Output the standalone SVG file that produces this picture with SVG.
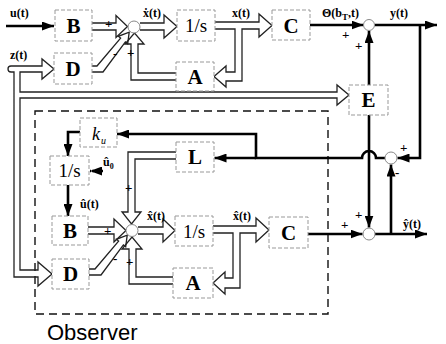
<svg xmlns="http://www.w3.org/2000/svg" width="446" height="344" viewBox="0 0 446 344">
<style>
.box{fill:#fff;stroke:#999;stroke-width:1;stroke-dasharray:4 2}
.pipe{fill:none;stroke:#222;stroke-width:1.3;stroke-linejoin:miter}
.thick{fill:none;stroke:#000;stroke-width:2.6}
.sum{fill:#fff;stroke:#888;stroke-width:1}
.big{font-family:"Liberation Serif",serif;font-weight:bold;font-size:21px;text-anchor:middle}
.int{font-family:"Liberation Serif",serif;font-size:19px;text-anchor:middle}
.lbl{font-family:"Liberation Serif",serif;font-weight:bold;font-size:12px}
.sg{font-family:"Liberation Serif",serif;font-weight:bold;font-size:13px;fill:#000}
.obs{fill:none;stroke:#111;stroke-width:1.4;stroke-dasharray:8 5}
</style>
<defs>
<marker id="ah" viewBox="0 0 12 9" refX="12" refY="4.5" markerWidth="12" markerHeight="9" markerUnits="userSpaceOnUse" orient="auto"><path d="M0 0 L12 4.5 L0 9 z" fill="#000"/></marker>
</defs>

<rect class="obs" x="35" y="111" width="293" height="203"/>
<text x="47" y="340" font-family="Liberation Sans, Arial, sans-serif" font-size="22">Observer</text>

<g id="connectors">
  <path class="pipe" d="M92 23 H116 V15.5 L127.5 26.5 L116 37.5 V30 H92"/>
  <path class="pipe" d="M140 23 H164 V15 L177 26.5 L164 38 V30 H140"/>
  <path class="pipe" d="M215 22 H259 V14 L272 25.5 L259 37 V29 H242 V81 H226 V87 L214 76.5 L226 66 V72 H235 V29 H215"/>
  <path class="pipe" d="M176 73 H138 V44 H144 L134.5 33 L125 44 H131 V80 H176"/>
  <path class="pipe" d="M92 66 H97 L120.6 38.1 L118.3 36.3 L129.2 32.2 L127.7 43.7 L125.4 41.9 L103 72 H92"/>
  <path class="pipe" d="M11 72 A3 3 0 0 1 11 66 H42 V59 L54 69 L42 79 V72 H20 V92 H337 V85 L349 95 L337 105 V98 H20 V270 H38 V262 L52 274 L38 286 V277 H14 V72 H11"/>
  <path class="pipe" d="M88 227 H114 V219 L126 230.5 L114 242 V234 H88"/>
  <path class="pipe" d="M138 227 H163 V219 L175 230.5 L163 242 V234 H138"/>
  <path class="pipe" d="M176 152 H128 V212 H122 L131.5 224 L141 212 H135 V159 H176"/>
  <path class="pipe" d="M173 277 H136 V249 H142 L132 237 L122 249 H129 V284 H173"/>
  <path class="pipe" d="M89 269 H95 L118.6 241.1 L116.3 239.3 L127.2 235.2 L125.7 246.7 L123.4 244.9 L101 275 H89"/>
  <path class="pipe" d="M213 226 H256 V218 L269 230 L256 242 V233 H240 V288 H225 V294 L213 283 L225 272 V278 H233 V233 H213"/>
  <path class="thick" d="M6 26 H54" marker-end="url(#ah)"/>
  <path class="thick" d="M310 25 H363.5" marker-end="url(#ah)"/>
  <path class="thick" d="M375 25 H437" marker-end="url(#ah)"/>
  <path class="thick" d="M369 85 V31" marker-end="url(#ah)"/>
  <path class="thick" d="M420 25 V158 H397.5" marker-end="url(#ah)"/>
  <path class="thick" d="M369 115 V227.5" marker-end="url(#ah)"/>
  <path class="thick" d="M385 158 H376 A7 7 0 0 0 362 158 H256 V134 H117" marker-end="url(#ah)"/>
  <path class="thick" d="M256 158 H214.5" marker-end="url(#ah)"/>
  <path class="thick" d="M308 234 H362.5" marker-end="url(#ah)"/>
  <path class="thick" d="M375 234 H427" marker-end="url(#ah)"/>
  <path class="thick" d="M391 234 V164.5" marker-end="url(#ah)"/>
  <path class="thick" d="M80 132 H68 V156" marker-end="url(#ah)"/>
  <path class="thick" d="M68 185 V216" marker-end="url(#ah)"/>
  <path class="thick" d="M103 171 H90" marker-end="url(#ah)" stroke-dasharray="2 1"/>
</g>

<g id="B"><rect class="box" x="55" y="10" width="37" height="31"/><text class="big" x="73.5" y="33">B</text></g>
<g id="D"><rect class="box" x="54" y="53" width="38" height="31"/><text class="big" x="73" y="76">D</text></g>
<g id="sum1"><circle class="sum" cx="134" cy="27" r="6"/></g>
<g id="int1"><rect class="box" x="177" y="10" width="38" height="31"/><text class="int" x="196" y="32">1/s</text></g>
<g id="A"><rect class="box" x="176" y="62" width="38" height="29"/><text class="big" x="195" y="84">A</text></g>
<g id="C"><rect class="box" x="272" y="10" width="38" height="30"/><text class="big" x="291" y="33">C</text></g>
<g id="sum2"><circle class="sum" cx="369" cy="25" r="5.5"/></g>
<g id="E"><rect class="box" x="349" y="85" width="39" height="30"/><text class="big" x="368.5" y="107">E</text></g>
<g id="sum3"><circle class="sum" cx="391" cy="158" r="6"/></g>
<g id="sum4"><circle class="sum" cx="369" cy="234" r="6"/></g>
<g id="ku"><rect class="box" x="80" y="118" width="37" height="29"/><text x="92" y="140" font-family="Liberation Serif, serif" font-style="italic" font-size="18">k</text><text x="101" y="144" font-family="Liberation Serif, serif" font-style="italic" font-size="10">u</text></g>
<g id="intObs1"><rect class="box" x="50" y="156" width="39" height="29"/><text class="int" x="69.5" y="177">1/s</text></g>
<g id="L"><rect class="box" x="176" y="142" width="38" height="30"/><text class="big" x="195" y="164">L</text></g>
<g id="Bo"><rect class="box" x="52" y="216" width="36" height="29"/><text class="big" x="70" y="238">B</text></g>
<g id="Do"><rect class="box" x="52" y="259" width="37" height="30"/><text class="big" x="70.5" y="281">D</text></g>
<g id="sumO"><circle class="sum" cx="132" cy="230.5" r="6"/></g>
<g id="intObs2"><rect class="box" x="175" y="216" width="38" height="30"/><text class="int" x="194" y="238">1/s</text></g>
<g id="Ao"><rect class="box" x="173" y="268" width="40" height="30"/><text class="big" x="193" y="290">A</text></g>
<g id="Co"><rect class="box" x="269" y="217" width="39" height="31"/><text class="big" x="288.5" y="240">C</text></g>

<g id="labels">
  <text class="lbl" x="10" y="17">u(t)</text>
  <text class="lbl" x="10" y="59">z(t)</text>
  <text class="lbl" x="143" y="17">ẋ(t)</text>
  <text class="lbl" x="232" y="17">x(t)</text>
  <text class="lbl" x="322" y="17">Θ(b<tspan font-size="9" dy="3">T</tspan><tspan dy="-3">,t)</tspan></text>
  <text class="lbl" x="390" y="17">y(t)</text>
  <text class="lbl" x="403" y="228">ŷ(t)</text>
  <text class="lbl" x="147" y="220">x̂(t)</text>
  <text class="lbl" x="233" y="220">x̂(t)</text>
  <text class="lbl" x="80" y="208">û(t)</text>
  <text class="lbl" x="103" y="166">û<tspan font-size="8" dy="3">0</tspan></text>
  <text class="sg" x="105" y="28">+</text>
  <text class="sg" x="113" y="58">-</text>
  <text class="sg" x="127" y="57">+</text>
  <text class="sg" x="342" y="39">+</text>
  <text class="sg" x="355" y="50">+</text>
  <text class="sg" x="400" y="152">+</text>
  <text class="sg" x="395" y="177">-</text>
  <text class="sg" x="355" y="219">+</text>
  <text class="sg" x="341" y="229">+</text>
  <text class="sg" x="104" y="235">+</text>
  <text class="sg" x="113" y="263">-</text>
  <text class="sg" x="125" y="192">+</text>
  <text class="sg" x="126" y="266">+</text>
</g>
</svg>
